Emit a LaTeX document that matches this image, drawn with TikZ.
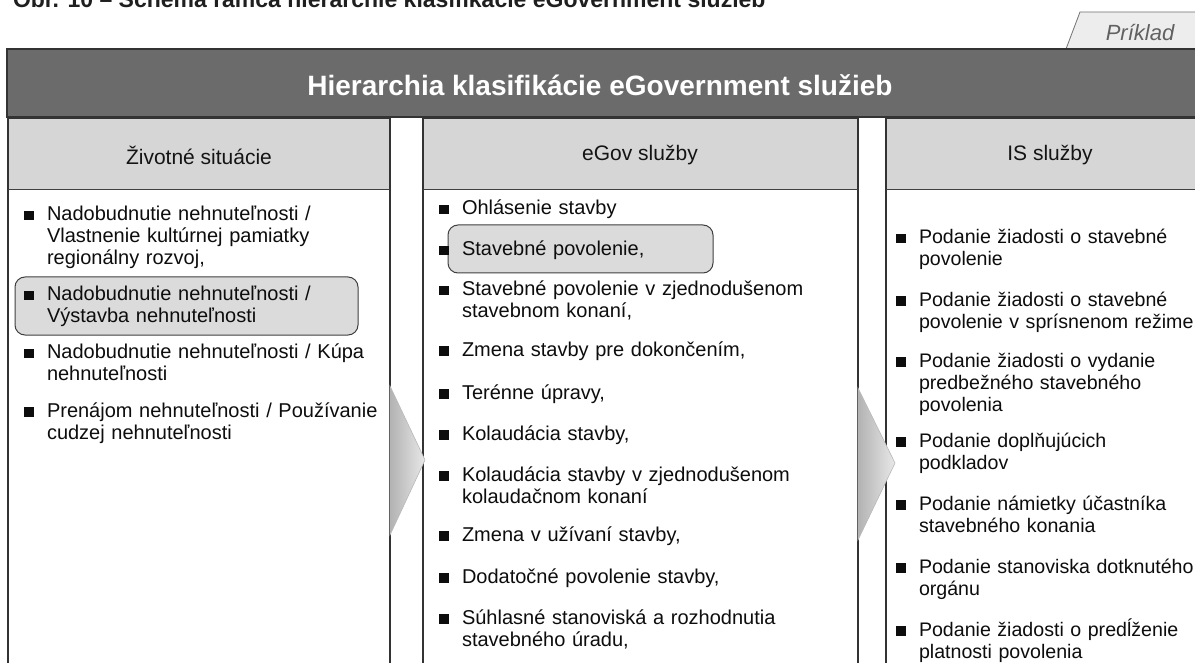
\documentclass[tikz,border=0pt]{standalone}
\usepackage{fontspec}
\setmainfont{Liberation Sans}
\newcommand\itmfont{\fontsize{20pt}{22pt}\selectfont\hyphenpenalty=10000\exhyphenpenalty=10000}
\newcommand\ritmfont{\fontsize{19.6pt}{22pt}\selectfont\hyphenpenalty=10000\exhyphenpenalty=10000}
\newcommand\hdfont{\fontsize{21pt}{24pt}\selectfont}
\newcommand\sqb{\leavevmode\llap{\rule[0.5pt]{9.5pt}{9.5pt}\hspace{13.5pt}}}
\begin{document}
\begin{tikzpicture}[x=1pt,y=-1pt,
  every node/.style={inner sep=0pt,outer sep=0pt},
  colframe/.style={draw=black!80,line width=1.1pt,fill=white},
  headband/.style={fill=black!16},
  headline/.style={draw=black!75,line width=1pt},
  headtext/.style={font=\hdfont,text=black!92},
  litem/.style={anchor=base west,text width=520pt,align=left,font=\itmfont,text=black!95},
  mitem/.style={anchor=base west,text width=520pt,align=left,font=\itmfont,text=black!95},
  ritem/.style={anchor=base west,text width=520pt,align=left,font=\ritmfont,text=black!95},
  hilite/.style={draw=black!75,line width=1pt,fill=black!14,rounded corners=10pt},
  flowarrow/.style={left color=black!30,right color=black!9,draw=black!28,line width=0.6pt}
]
\useasboundingbox (0,0) rectangle (1195,663);
\clip (0,0) rectangle (1195,663);
\fill[white] (0,0) rectangle (1195,663);

% caption line, cut by the top edge
\node[anchor=base west,font=\bfseries\fontsize{23pt}{26pt}\selectfont,text=black!88] (caption) at (13,8)
  {Obr. 10 – Schéma rámca hierarchie klasifikácie eGovernment služieb};

% example tab
\draw[fill=black!7,draw=black!55,line width=0.8pt] (1066,49) -- (1080,12) -- (1210,12) -- (1210,49);
\node[font=\itshape\fontsize{22pt}{24pt}\selectfont,text=black!62] (tab) at (1140,33) {Príklad};

% title bar
\draw[fill=black!58,draw=black!80,line width=1.2pt] (7,49) rectangle (1215,117);
\node[font=\bfseries\fontsize{28pt}{30pt}\selectfont,text=white] (title) at (600,85)
  {Hierarchia klasifikácie eGovernment služieb};

% column frames with header bands
\foreach \xa/\xb in {8/390,423/858,886/1215}{
  \draw[colframe] (\xa,118) rectangle (\xb,700);
  \fill[headband] (\xa+0.6,118.6) rectangle (\xb-0.6,190);
  \draw[headline] (\xa,190) -- (\xb,190);
}

% flow arrows between the columns
\draw[flowarrow] (390,386) -- (425,460) -- (390,535) -- cycle;
\draw[flowarrow] (858,388) -- (895,463) -- (858,540) -- cycle;

% column headings
\node[headtext] (h1) at (199,155) {Životné situácie};
\node[headtext] (h2) at (640,155) {eGov služby};
\node[headtext] (h3) at (1050,155) {IS služby};

% highlighted entries
\draw[hilite] (15,277) rectangle (358,335);
\draw[hilite] (448,225) rectangle (713,273);

% life situations
\node[litem] (l1) at (47,221) {\sqb Nadobudnutie nehnuteľnosti /\\Vlastnenie kultúrnej pamiatky\\regionálny rozvoj,};
\node[litem] (l2) at (47,301) {\sqb Nadobudnutie nehnuteľnosti /\\Výstavba nehnuteľnosti};
\node[litem] (l3) at (47,359) {\sqb Nadobudnutie nehnuteľnosti / Kúpa\\nehnuteľnosti};
\node[litem] (l4) at (47,417) {\sqb Prenájom nehnuteľnosti / Používanie\\cudzej nehnuteľnosti};

% eGov services
\node[mitem] (m1) at (462,215) {\sqb Ohlásenie stavby};
\node[mitem] (m2) at (462,256) {\sqb Stavebné povolenie,};
\node[mitem] (m3) at (462,296) {\sqb Stavebné povolenie v zjednodušenom\\stavebnom konaní,};
\node[mitem] (m4) at (462,356) {\sqb Zmena stavby pre dokončením,};
\node[mitem] (m5) at (462,399) {\sqb Terénne úpravy,};
\node[mitem] (m6) at (462,440) {\sqb Kolaudácia stavby,};
\node[mitem] (m7) at (462,481) {\sqb Kolaudácia stavby v zjednodušenom\\kolaudačnom konaní};
\node[mitem] (m8) at (462,541) {\sqb Zmena v užívaní stavby,};
\node[mitem] (m9) at (462,583) {\sqb Dodatočné povolenie stavby,};
\node[mitem] (m10) at (462,624) {\sqb Súhlasné stanoviská a rozhodnutia\\stavebného úradu,};

% IS services
\node[ritem] (r1) at (919,244) {\sqb Podanie žiadosti o stavebné\\povolenie};
\node[ritem] (r2) at (919,306) {\sqb Podanie žiadosti o stavebné\\povolenie v sprísnenom režime};
\node[ritem] (r3) at (919,367) {\sqb Podanie žiadosti o vydanie\\predbežného stavebného\\povolenia};
\node[ritem] (r4) at (919,447) {\sqb Podanie doplňujúcich\\podkladov};
\node[ritem] (r5) at (919,510) {\sqb Podanie námietky účastníka\\stavebného konania};
\node[ritem] (r6) at (919,573) {\sqb Podanie stanoviska dotknutého\\orgánu};
\node[ritem] (r7) at (919,636) {\sqb Podanie žiadosti o predĺženie\\platnosti povolenia};
\end{tikzpicture}
\end{document}
